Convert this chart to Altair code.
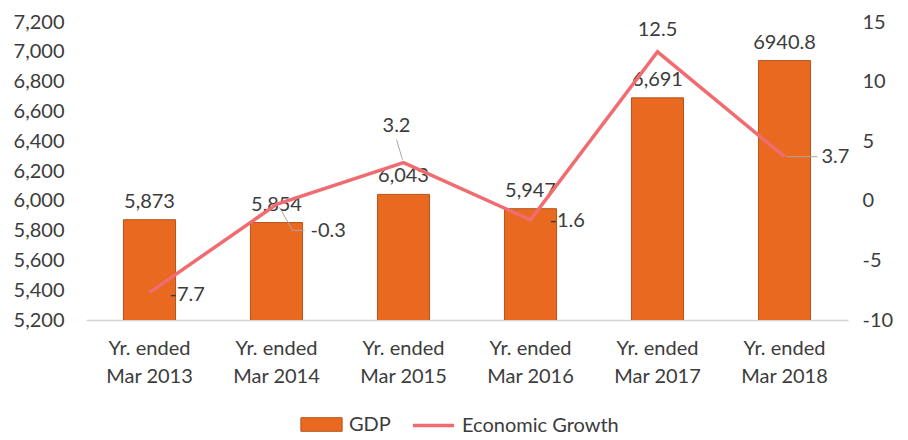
import altair as alt
import pandas as pd

periods = ["Yr. ended Mar 2013", "Yr. ended Mar 2014", "Yr. ended Mar 2015",
           "Yr. ended Mar 2016", "Yr. ended Mar 2017", "Yr. ended Mar 2018"]
gdp = [5873, 5854, 6043, 5947, 6691, 6940.8]
gdp_labels = ["5,873", "5,854", "6,043", "5,947", "6,691", "6940.8"]
growth = [-7.7, -0.3, 3.2, -1.6, 12.5, 3.7]
growth_labels = ["-7.7", "-0.3", "3.2", "-1.6", "12.5", "3.7"]
left_ticks = [5200, 5400, 5600, 5800, 6000, 6200, 6400, 6600, 6800, 7000, 7200]
right_ticks = [-10, -5, 0, 5, 10, 15]

df = pd.DataFrame({
    "period": periods, "gdp": gdp, "gdp_label": gdp_labels,
    "growth": growth, "growth_label": growth_labels,
})

FONT = "Lato"
FS = 20
TXT = "#3C3C3C"
BAR = "#E8691F"
BAR_EDGE = "#B5541C"
LINE = "#F06C70"
LEAD = "#A8A8A8"

xenc = alt.X("period:N", sort=periods, title=None,
             scale=alt.Scale(paddingInner=0.59, paddingOuter=0.295),
             axis=alt.Axis(labelExpr="[slice(datum.label, 0, 9), slice(datum.label, 10)]",
                           labelAngle=0, labelFont=FONT, labelFontSize=FS, labelColor=TXT,
                           labelPadding=18, labelLineHeight=28, ticks=False,
                           domain=True, domainColor="#D9D4D0", domainWidth=1.5))
xplain = alt.X("period:N", sort=periods)

left_scale = alt.Scale(domain=[5200, 7200], nice=False, zero=False)
yleft = alt.Y("gdp:Q", title=None, scale=left_scale,
              axis=alt.Axis(values=left_ticks, format=",d", grid=False, ticks=False,
                            domain=False, labelFont=FONT, labelFontSize=FS,
                            labelColor=TXT, labelPadding=22, labelOverlap=False))

bars = alt.Chart(df).transform_calculate(series="'GDP'").mark_bar(
    stroke=BAR_EDGE, strokeWidth=1, clip=True
).encode(
    x=xenc, y=yleft,
    color=alt.Color("series:N", scale=alt.Scale(domain=["GDP"], range=[BAR]),
                    legend=alt.Legend(orient="none", legendX=214, legendY=381, title=None,
                                      symbolType="M-1,-0.33L1,-0.33L1,0.33L-1,0.33Z",
                                      symbolSize=1700, symbolStrokeColor=BAR_EDGE,
                                      symbolStrokeWidth=1, labelFont=FONT,
                                      labelFontSize=FS, labelColor=TXT, labelOffset=6)),
)

bar_text = alt.Chart(df).mark_text(
    baseline="bottom", dy=-8, font=FONT, fontSize=FS, color=TXT
).encode(x=xplain, y=yleft, text="gdp_label:N")

left = alt.layer(bars, bar_text)

yright_scale = alt.Scale(domain=[-10, 15], nice=False, zero=False)
yright = alt.Y("growth:Q", title=None, scale=yright_scale,
               axis=alt.Axis(orient="right", values=right_ticks, grid=False, ticks=False,
                             domain=False, labelFont=FONT, labelFontSize=FS,
                             labelExpr="toString(datum.value)",
                             labelColor=TXT, labelPadding=14, labelOverlap=False))

line = alt.Chart(df).transform_calculate(series="'Economic Growth'").mark_line(
    strokeWidth=3.5
).encode(
    x=xplain, y=yright,
    stroke=alt.Stroke("series:N", scale=alt.Scale(domain=["Economic Growth"], range=[LINE]),
                      legend=alt.Legend(orient="none", legendX=325, legendY=381, title=None,
                                        symbolType="stroke", symbolSize=1700,
                                        symbolStrokeWidth=3.5, labelFont=FONT,
                                        labelFontSize=FS, labelColor=TXT, labelOffset=6)),
)

# per-label placement (style only)
placements = {
    periods[0]: dict(dx=20, dy=2, align="left"),
    periods[1]: dict(dx=34, dy=27, align="left"),
    periods[2]: dict(dx=-7, dy=-37, align="center"),
    periods[3]: dict(dx=19, dy=1, align="left"),
    periods[4]: dict(dx=0, dy=-22, align="center"),
    periods[5]: dict(dx=37, dy=0, align="left"),
}
line_texts = []
for p, st in placements.items():
    line_texts.append(
        alt.Chart(df).transform_filter(alt.datum.period == p).mark_text(
            baseline="middle", font=FONT, fontSize=FS, color=TXT, **st
        ).encode(x=xplain, y=yright, text="growth_label:N")
    )

# leader lines: (xOffset, yOffset, x2Offset, y2Offset) relative to the point
leader_offsets = [
    (periods[1], 3, 3, 16, 26),
    (periods[1], 16, 26, 28, 26),
    (periods[2], -1, -3, -7, -23),
    (periods[5], 2, 0, 33, 0),
]
leaders = []
for p, ox, oy, ox2, oy2 in leader_offsets:
    leaders.append(
        alt.Chart(df).transform_filter(alt.datum.period == p).mark_rule(
            color=LEAD, strokeWidth=1, xOffset=ox, yOffset=oy,
            x2Offset=ox2, y2Offset=oy2
        ).encode(x=xplain, x2=alt.X2("period:N"), y=yright, y2="growth:Q")
    )

right = alt.layer(*leaders, line, *line_texts)

chart = alt.layer(left, right).resolve_scale(y="independent").properties(
    width=762, height=298,
    background="white",
    autosize=alt.AutoSizeParams(type="none"),
    padding={"left": 78, "top": 14, "right": 50, "bottom": 116},
).configure_view(stroke=None)

chart.save("out.html", embed_options={"renderer": "svg", "actions": False})
